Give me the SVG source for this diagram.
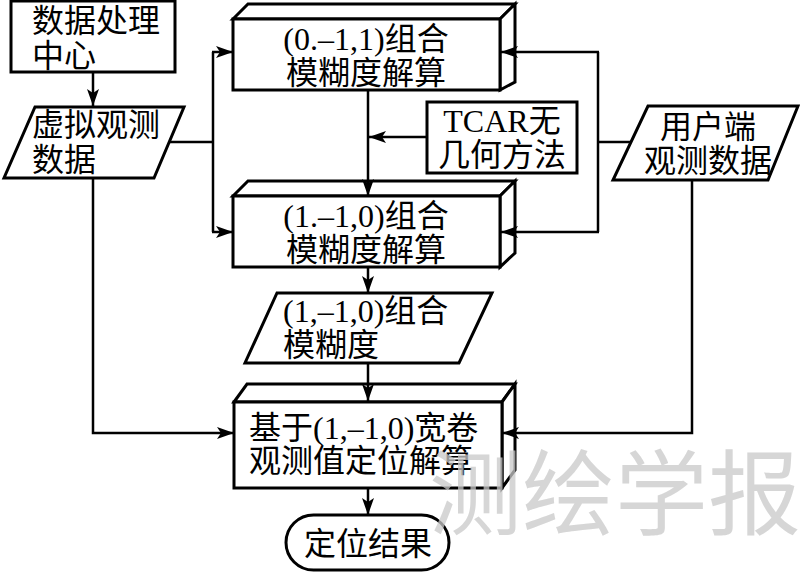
<svg xmlns="http://www.w3.org/2000/svg" width="800" height="572" viewBox="0 0 800 572">
<defs>
<style>
.s{fill:#fff;stroke:#000;stroke-width:3;stroke-linejoin:miter}
.t{font-family:"Liberation Serif","Noto Sans CJK SC",serif;font-size:32px;fill:#000}
.c{text-anchor:middle}
.ln{fill:none;stroke:#000;stroke-width:2.5}
.wm{font-family:"Noto Sans CJK SC","Noto Sans",sans-serif;font-size:93px;fill:#c8c8c8;fill-opacity:0.75}
</style>
<marker id="ah" markerUnits="userSpaceOnUse" markerWidth="18" markerHeight="14" viewBox="0 0 18 14" refX="17" refY="7" orient="auto">
<path d="M0,1 L17,7 L0,13 L4,7 z" fill="#000"/>
</marker>
</defs>
<rect width="800" height="572" fill="#fff"/>

<g id="n-center">
<rect class="s" x="11" y="1" width="164" height="71"/>
<text class="t" x="32" y="32">数据处理</text>
<text class="t" x="32" y="67">中心</text>
</g>

<g id="n-virtual">
<polygon class="s" points="35,107 184,107 154,178 4,178"/>
<text class="t" x="32" y="136">虚拟观测</text>
<text class="t" x="32" y="171">数据</text>
</g>

<g id="n-boxA">
<polygon class="s" points="233,19 248,4 515,4 500,19"/>
<polygon class="s" points="500,19 515,4 515,82 500,90"/>
<rect class="s" x="233" y="19" width="267" height="71"/>
<text class="t c" x="366" y="50">(0.–1,1)组合</text>
<text class="t c" x="366" y="84">模糊度解算</text>
</g>

<g id="n-tcar">
<rect class="s" x="427" y="102" width="150" height="71"/>
<text class="t c" x="502" y="132">TCAR无</text>
<text class="t c" x="502" y="166">几何方法</text>
</g>

<g id="n-user">
<polygon class="s" points="648,106 798,106 768,180 613,180"/>
<text class="t c" x="708" y="138">用户端</text>
<text class="t c" x="708" y="172">观测数据</text>
</g>

<g id="n-boxB">
<polygon class="s" points="233,196 248,181 515,181 500,196"/>
<polygon class="s" points="500,196 515,181 515,253 500,267"/>
<rect class="s" x="233" y="196" width="267" height="71"/>
<text class="t c" x="366" y="227">(1.–1,0)组合</text>
<text class="t c" x="366" y="261">模糊度解算</text>
</g>

<g id="n-wl">
<polygon class="s" points="277,293 492,293 459,363 245,363"/>
<text class="t" x="283" y="322">(1,–1,0)组合</text>
<text class="t" x="283" y="356">模糊度</text>
</g>

<g id="n-boxC">
<polygon class="s" points="234,402 247,384 515,384 502,402"/>
<polygon class="s" points="502,402 515,384 515,470 502,488"/>
<rect class="s" x="234" y="402" width="268" height="86"/>
<text class="t" x="249" y="439">基于(1,–1,0)宽卷</text>
<text class="t" x="249" y="472">观测值定位解算</text>
</g>

<g id="n-result">
<rect class="s" x="286" y="515" width="163" height="55" rx="27.5" ry="27.5"/>
<text class="t c" x="368" y="555">定位结果</text>
</g>

<g id="connectors">
<line class="ln" x1="93" y1="72" x2="93" y2="106" marker-end="url(#ah)"/>
<polyline class="ln" points="169,142 213,142"/>
<line class="ln" x1="213" y1="52" x2="213" y2="232"/>
<line class="ln" x1="212" y1="52" x2="233" y2="52" marker-end="url(#ah)"/>
<line class="ln" x1="212" y1="232" x2="233" y2="232" marker-end="url(#ah)"/>
<line class="ln" x1="368" y1="90" x2="368" y2="196" marker-end="url(#ah)"/>
<line class="ln" x1="427" y1="137" x2="369" y2="137" marker-end="url(#ah)"/>
<polyline class="ln" points="631,142 598,142"/>
<line class="ln" x1="598" y1="52" x2="598" y2="232"/>
<line class="ln" x1="599" y1="52" x2="501" y2="52" marker-end="url(#ah)"/>
<line class="ln" x1="599" y1="232" x2="501" y2="232" marker-end="url(#ah)"/>
<line class="ln" x1="368" y1="267" x2="368" y2="293" marker-end="url(#ah)"/>
<line class="ln" x1="368" y1="363" x2="368" y2="401" marker-end="url(#ah)"/>
<polyline class="ln" points="93,178 93,433 234,433" marker-end="url(#ah)"/>
<polyline class="ln" points="692,180 692,433 502,433" marker-end="url(#ah)"/>
<line class="ln" x1="368" y1="488" x2="368" y2="515" marker-end="url(#ah)"/>
</g>

<text class="wm" x="429" y="528">测绘学报</text>
</svg>
